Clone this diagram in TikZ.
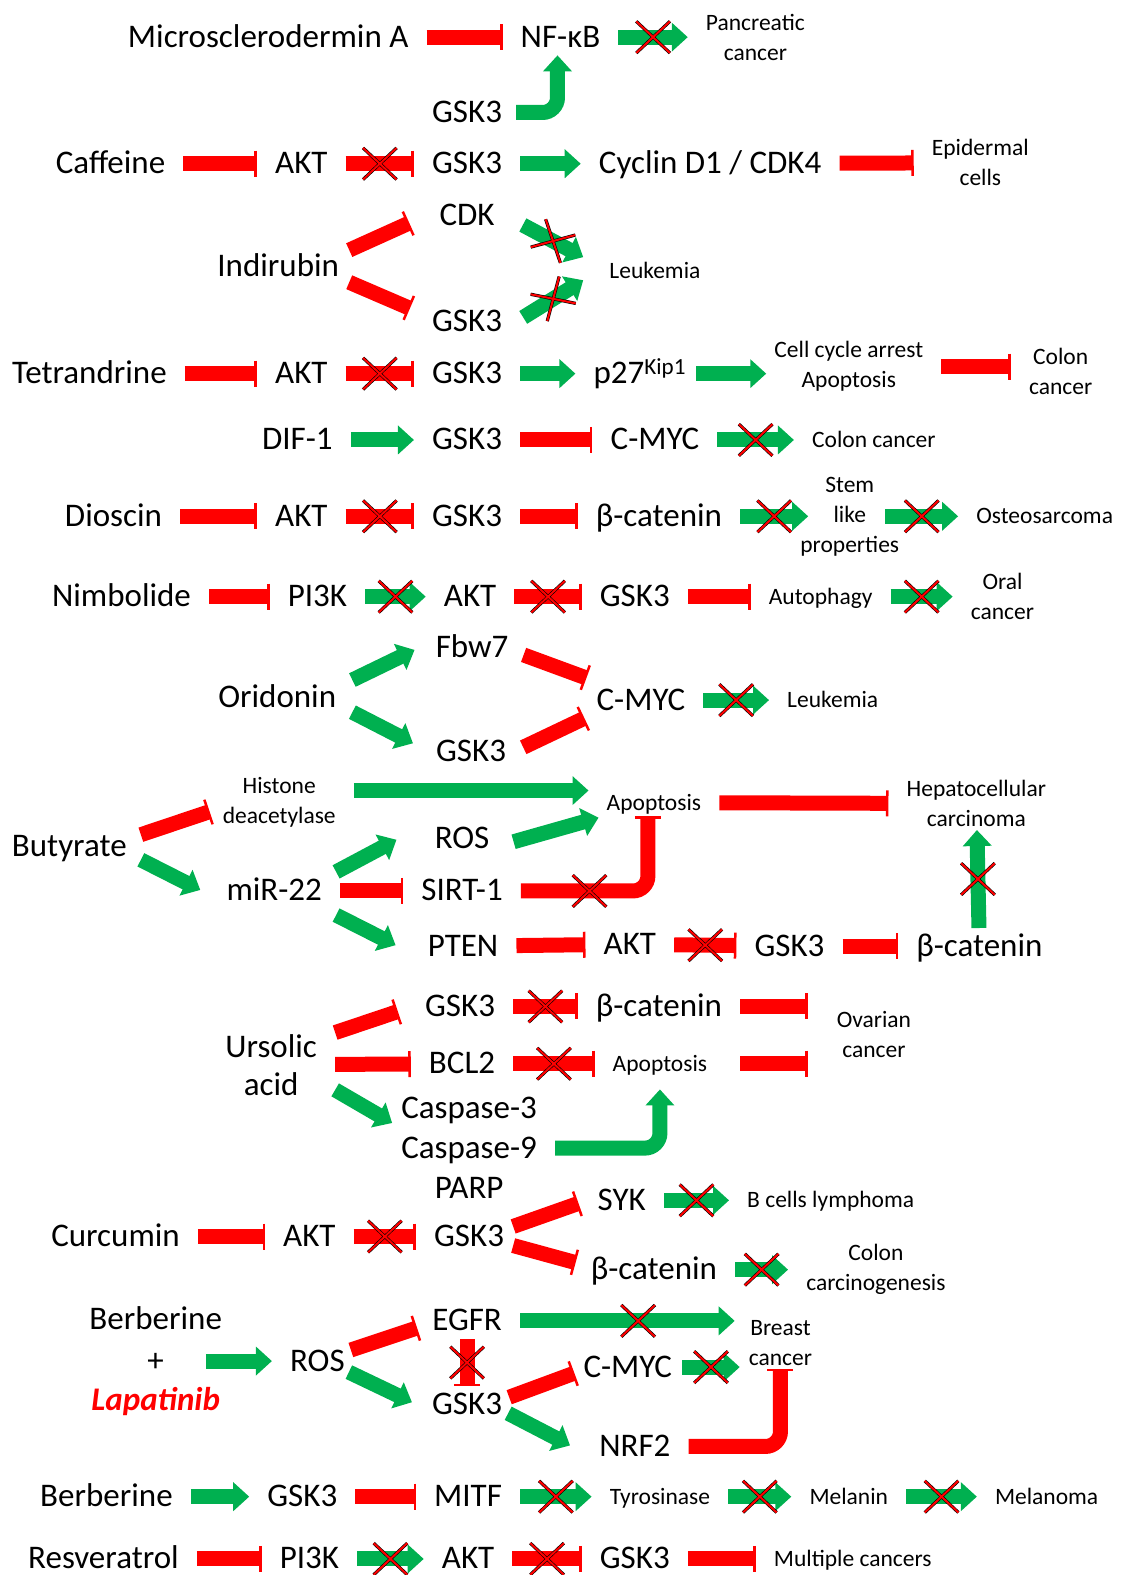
\documentclass[tikz,border=0pt]{standalone}
\usepackage{fontspec}
\setmainfont{Carlito}
\usetikzlibrary{arrows.meta, shapes.misc, calc}
\definecolor{actgreen}{HTML}{00B050}
\definecolor{inhred}{HTML}{FF0000}

\begin{document}
\begin{tikzpicture}[
    x=1.0045pt, y=-1.0045pt,
    every node/.style={inner xsep=18pt, inner ysep=3pt, align=center},
    big/.style={font=\fontsize{33}{38}\selectfont, text height=25pt, text depth=5pt},
    bigml/.style={font=\fontsize{33}{38}\selectfont},
    small/.style={font=\fontsize{23.5}{30}\selectfont, text height=18pt, text depth=3pt},
    smallml/.style={font=\fontsize{23.5}{30}\selectfont},
    act/.style={draw=actgreen, line width=15pt, -{Triangle[width=28pt, length=16pt]}},
    inh/.style={draw=inhred, line width=15pt, -{Bar[width=26pt, line width=2.5pt]}},
    xm/.style={-, cross out, draw=black, double=inhred, double distance=2pt, line width=.6pt,
        minimum width=33pt, minimum height=31pt, inner sep=0pt}
]
\useasboundingbox (0,0) rectangle (1118,1568);

% Microsclerodermin A
\node[big] (micro) at (267,37) {Microsclerodermin A};
\node[big] (nfkb) at (558,37) {NF-κB};
\node[smallml] (panc) at (752,37) {Pancreatic\\cancer};
\node[big] (gska) at (465,112) {GSK3};
\draw[inh] (micro) -- (nfkb);
\draw[act] (nfkb) -- node[xm]{} (panc);
\draw[act, rounded corners=15pt] ([xshift=-4pt]gska.east) -| ([xshift=-3pt]nfkb.south);

% Caffeine
\node[big] (caf) at (110,163) {Caffeine};
\node[big] (akta) at (300,163) {AKT};
\node[big] (gskb) at (465,163) {GSK3};
\node[big] (cyc) at (707,163) {Cyclin D1 / CDK4};
\node[smallml] (epi) at (976,162) {Epidermal\\cells};
\draw[inh] (caf) -- (akta);
\draw[inh] (akta) -- node[xm]{} (gskb);
\draw[act] (gskb) -- (cyc);
\draw[inh] (cyc) -- (epi);

% Indirubin
\node[big] (ind) at (277,265) {Indirubin};
\node[big] (cdk) at (465,215) {CDK};
\node[big] (gskc) at (465,320) {GSK3};
\node[small] (leuka) at (652,270) {Leukemia};
\draw[inh] ([shift={(-8,-16)}]ind.east) -- ([shift={(-12,7)}]cdk.west);
\draw[inh] ([shift={(-8,16)}]ind.east) -- ([shift={(-4,-13)}]gskc.west);
\draw[act] ([shift={(10,9)}]cdk.east) -- node[xm, sloped]{} ([shift={(-8,-14)}]leuka.west);
\draw[act] ([shift={(3,-4)}]gskc.east) -- node[xm, sloped]{} ([shift={(-8,9)}]leuka.west);

% Tetrandrine
\node[big] (tet) at (89,372) {Tetrandrine};
\node[big] (aktb) at (300,372) {AKT};
\node[big] (gskd) at (465,372) {GSK3};
\node[big] (p27) at (637,372) {p27\textsuperscript{Kip1}};
\node[smallml] (cca) at (845,365) {Cell cycle arrest\\Apoptosis};
\node[smallml] (colona) at (1056,370) {Colon\\cancer};
\draw[inh] (tet) -- (aktb);
\draw[inh] (aktb) -- node[xm]{} (gskd);
\draw[act] (gskd) -- (p27);
\draw[act] ([xshift=-8pt]p27.east) -- ($(p27 -| cca.west)+(10,0)$);
\draw[inh] (cca) -- (cca -| colona.west);

% DIF-1
\node[big] (dif) at (296,438) {DIF-1};
\node[big] (gske) at (465,438) {GSK3};
\node[big] (cmyca) at (652,438) {C-MYC};
\node[small] (colonb) at (870,438) {Colon cancer};
\draw[act] (dif) -- (gske);
\draw[inh] (gske) -- (cmyca);
\draw[act] (cmyca) -- node[xm]{} (colonb);

% Dioscin
\node[big] (dio) at (113,514) {Dioscin};
\node[big] (aktc) at (300,514) {AKT};
\node[big] (gskf) at (465,514) {GSK3};
\node[big] (bcata) at (656,514) {β-catenin};
\node[smallml] (stem) at (846,514) {Stem\\like\\properties};
\node[small] (osteo) at (1040,514) {Osteosarcoma};
\draw[inh] (dio) -- (aktc);
\draw[inh] (aktc) -- node[xm]{} (gskf);
\draw[inh] (gskf) -- (bcata);
\draw[act] (bcata) -- node[xm]{} ([xshift=26pt]stem.west);
\draw[act] ([xshift=-32pt]stem.east) -- node[xm]{} (osteo);

% Nimbolide
\node[big] (nim) at (121,594) {Nimbolide};
\node[big] (pika) at (316,594) {PI3K};
\node[big] (aktd) at (468,594) {AKT};
\node[big] (gskg) at (632,594) {GSK3};
\node[small] (auto) at (817,594) {Autophagy};
\node[smallml] (oral) at (998,594) {Oral\\cancer};
\draw[inh] (nim) -- (pika);
\draw[act] (pika) -- node[xm]{} (aktd);
\draw[inh] (aktd) -- node[xm]{} (gskg);
\draw[inh] (gskg) -- (auto);
\draw[act] (auto) -- node[xm]{} (oral);

% Oridonin
\node[big] (ori) at (276,694) {Oridonin};
\node[big] (fbw) at (470,645) {Fbw7};
\node[big] (gskh) at (469,748) {GSK3};
\node[big] (cmycb) at (638,697) {C-MYC};
\node[small] (leukb) at (829,697) {Leukemia};
\draw[act] ([shift={(-2,-17)}]ori.east) -- ([shift={(-3,2)}]fbw.west);
\draw[act] ([shift={(-2,15)}]ori.east) -- ([shift={(-5,-8)}]gskh.west);
\draw[inh] ([shift={(-3,7)}]fbw.east) -- ([shift={(8,-22)}]cmycb.west);
\draw[inh] ([shift={(-1,-4)}]gskh.east) -- ([shift={(6,18)}]cmycb.west);
\draw[act] (cmycb) -- node[xm]{} (leukb);

% Butyrate
\node[smallml] (hdac) at (278,799) {Histone\\deacetylase};
\node[small] (apopa) at (651,799) {Apoptosis};
\node[smallml] (hep) at (972,800) {Hepatocellular\\carcinoma};
\node[big] (but) at (69,843) {Butyrate};
\node[big] (rosa) at (460,835) {ROS};
\node[big] (mir) at (273,887) {miR-22};
\node[big] (sirt) at (460,887) {SIRT-1};
\node[big] (pten) at (461,942) {PTEN};
\node[big] (akte) at (627,940) {AKT};
\node[big] (gski) at (786,942) {GSK3};
\node[big] (bcatb) at (975,942) {β-catenin};
\draw[inh] ([shift={(-4,-12)}]but.east) -- ([shift={(5,9)}]hdac.west);
\draw[act] ([shift={(-4,13)}]but.east) -- ([shift={(-8,-1)}]mir.west);
\draw[act] ([yshift=12pt]hdac.east) -- ([yshift=12pt]apopa.west);
\draw[act] ([shift={(6,3)}]rosa.east) -- ([shift={(10,15)}]apopa.west);
\draw[inh] (apopa) -- (hep);
\draw[act] ([shift={(-4,-19)}]mir.east) -- ([shift={(-20,1)}]rosa.west);
\draw[inh] (mir) -- (sirt);
\draw[act] ([shift={(-4,24)}]mir.east) -- ([shift={(-14,-1)}]pten.west);
\draw[inh, rounded corners=15pt] (sirt) -| node[xm, pos=.27]{} ([xshift=-6pt]apopa.south);
\draw[inh] (pten) -- (akte);
\draw[inh] (akte) -- node[xm]{} (gski);
\draw[inh] (gski) -- (bcatb);
\draw[act] (bcatb) -- node[xm]{} (hep);

% Ursolic acid
\node[big] (gskj) at (458,1002) {GSK3};
\node[big] (bcatc) at (656,1002) {β-catenin};
\node[big] (bcl) at (460,1059) {BCL2};
\node[small] (apopb) at (657,1059) {Apoptosis};
\node[smallml] (ova) at (870,1030) {Ovarian\\cancer};
\node[bigml] (urs) at (270,1060) {Ursolic\\acid};
\node[big] (caspa) at (467,1104) {Caspase-3};
\node[big] (caspb) at (467,1143) {Caspase-9};
\node[big] (parp) at (467,1183) {PARP};
\draw[inh] ([shift={(0,-32)}]urs.east) -- ([shift={(-9,5)}]gskj.west);
\draw[inh] (urs) -- (bcl);
\draw[act] ([shift={(0,25)}]urs.east) -- ([shift={(9,14)}]caspa.west);
\draw[inh] (gskj) -- node[xm]{} (bcatc);
\draw[inh] (bcl) -- node[xm]{} (apopb);
\draw[inh] (bcatc) -- ($(bcatc -| ova.west)+(-11,0)$);
\draw[inh] (apopb -| bcatc.east) -- ($(apopb -| ova.west)+(-11,0)$);
\draw[act, rounded corners=15pt, shorten >=12pt] (caspb) -| (apopb);

% Curcumin
\node[big] (cur) at (115,1231) {Curcumin};
\node[big] (aktf) at (308,1231) {AKT};
\node[big] (gskk) at (467,1231) {GSK3};
\node[big] (syk) at (619,1195) {SYK};
\node[big] (bcatd) at (651,1264) {β-catenin};
\node[small] (bcll) at (827,1195) {B cells lymphoma};
\node[smallml] (ccar) at (872,1264) {Colon\\carcinogenesis};
\draw[inh] (cur) -- (aktf);
\draw[inh] (aktf) -- node[xm]{} (gskk);
\draw[inh] ([shift={(-9,-10)}]gskk.east) -- ([shift={(-1,3)}]syk.west);
\draw[inh] ([shift={(-9,9)}]gskk.east) -- ([shift={(3,-7)}]bcatd.west);
\draw[act] (syk) -- node[xm]{} (bcll);
\draw[act] (bcatd) -- node[xm]{} (ccar);

% Berberine + Lapatinib
\node[big] (berba) at (155,1314) {Berberine};
\node[big, minimum width=100pt] (plus) at (155,1355) {+};
\node[big, text=inhred, font=\fontsize{33}{38}\selectfont\bfseries\itshape] (lapa) at (155,1394) {Lapatinib};
\node[big] (rosb) at (316,1355) {ROS};
\node[big] (egfr) at (465,1315) {EGFR};
\node[big] (gskl) at (465,1398) {GSK3};
\node[big] (cmycc) at (625,1361) {C-MYC};
\node[big] (nrf) at (632,1440) {NRF2};
\node[smallml] (breast) at (777,1337) {Breast\\cancer};
\draw[act] (plus) -- (rosb);
\draw[inh] ([shift={(-12,-11)}]rosb.east) -- ([shift={(3,7)}]egfr.west);
\draw[act] ([shift={(-14,11)}]rosb.east) -- ([shift={(-2,-2)}]gskl.west);
\draw[act] (egfr) -- node[xm, pos=.55]{} ($(egfr -| breast.west)+(4,0)$);
\draw[inh] (egfr) -- node[xm]{} (gskl);
\draw[inh] ([shift={(-11,-7)}]gskl.east) -- ([shift={(9,6)}]cmycc.west);
\draw[act] ([shift={(-12,9)}]gskl.east) -- ([shift={(-11,-1)}]nrf.west);
\draw[act] ([xshift=-8pt]cmycc.east) -- node[xm]{} ($(cmycc -| breast.west)+(9,0)$);
\draw[inh, rounded corners=15pt] (nrf) -| (breast);

% Berberine
\node[big] (berbb) at (106,1490) {Berberine};
\node[big] (gskm) at (301,1490) {GSK3};
\node[big] (mitf) at (466,1490) {MITF};
\node[small] (tyro) at (657,1490) {Tyrosinase};
\node[small] (mela) at (845,1490) {Melanin};
\node[small] (melo) at (1042,1490) {Melanoma};
\draw[act] (berbb) -- (gskm);
\draw[inh] (gskm) -- (mitf);
\draw[act] (mitf) -- node[xm]{} (tyro);
\draw[act] (tyro) -- node[xm]{} (mela);
\draw[act] (mela) -- node[xm]{} (melo);

% Resveratrol
\node[big] (res) at (103,1552) {Resveratrol};
\node[big] (pikb) at (308,1552) {PI3K};
\node[big] (aktg) at (466,1552) {AKT};
\node[big] (gskn) at (632,1552) {GSK3};
\node[small] (mult) at (849,1552) {Multiple cancers};
\draw[inh] (res) -- (pikb);
\draw[act] (pikb) -- node[xm]{} (aktg);
\draw[inh] (aktg) -- node[xm]{} (gskn);
\draw[inh] (gskn) -- (mult);

\end{tikzpicture}
\end{document}
